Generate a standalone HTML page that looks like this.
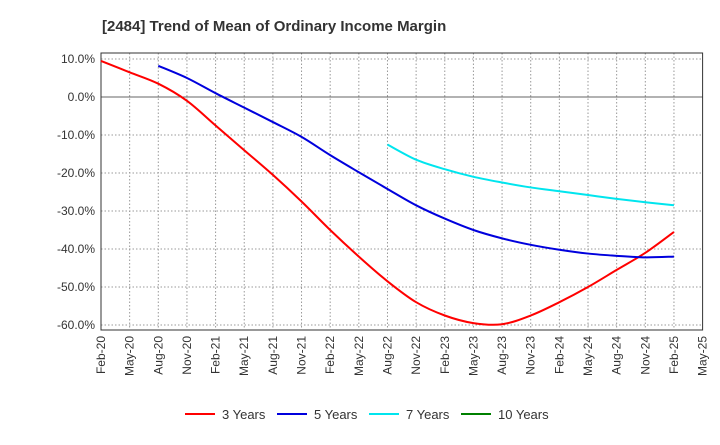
<!DOCTYPE html>
<html><head><meta charset="utf-8"><style>
body{margin:0;background:#fff;font-family:"Liberation Sans",sans-serif}
</style></head><body>
<svg width="720" height="440" xmlns="http://www.w3.org/2000/svg" font-family="Liberation Sans, sans-serif">
<text x="102" y="31" font-size="15" font-weight="bold" fill="#333">[2484]  Trend of Mean of Ordinary Income Margin</text>
<g id="grid"></g><g id="axes"></g><g id="series"></g><g id="legend"></g>
</svg>
<script>
const xLabels=["Feb-20","May-20","Aug-20","Nov-20","Feb-21","May-21","Aug-21","Nov-21","Feb-22","May-22","Aug-22","Nov-22","Feb-23","May-23","Aug-23","Nov-23","Feb-24","May-24","Aug-24","Nov-24","Feb-25","May-25"];
const yTicks=[10,0,-10,-20,-30,-40,-50,-60];
const s3=[9.5,6.5,3.5,-1,-7.5,-14,-20.5,-27.5,-35,-42,-48.5,-54,-57.5,-59.5,-59.8,-57.5,-54,-50,-45.5,-41,-35.5];
const s5=[null,null,8.2,5,1,-2.8,-6.6,-10.5,-15.3,-19.8,-24.2,-28.5,-32,-35,-37.2,-38.9,-40.2,-41.2,-41.8,-42.2,-42];
const s7=[null,null,null,null,null,null,null,null,null,null,-12.5,-16.5,-19,-21,-22.5,-23.8,-24.8,-25.8,-26.8,-27.7,-28.5];
const s10=[];
const L=101,R=702.6,T=53,B=330;
const xs=i=>L+i*(R-L)/21;
const ys=v=>97-v*3.8;
const NS="http://www.w3.org/2000/svg";
function mk(p,t,a){const e=document.createElementNS(NS,t);for(const k in a)e.setAttribute(k,a[k]);p.appendChild(e);return e;}
const g=document.getElementById('grid'),ax=document.getElementById('axes'),se=document.getElementById('series'),lg=document.getElementById('legend');
xLabels.forEach((l,i)=>{const x=xs(i);
 if(i>0&&i<21){const ln=mk(g,'line',{x1:x,x2:x,y1:T,y2:B,stroke:'#999','stroke-dasharray':'1.5,2','stroke-width':1});
 
 }
 const t=mk(ax,'text',{transform:`translate(${x+4},${B+6}) rotate(-90)`,'text-anchor':'end','font-size':12,fill:'#333'});t.textContent=l;
 
 });
yTicks.forEach(v=>{const y=ys(v);
 const ln=mk(g,'line',{x1:L,x2:R,y1:y,y2:y,stroke:v===0?'#666':'#999','stroke-dasharray':v===0?'none':'1.5,2','stroke-width':1});
 
 
 const t=mk(ax,'text',{x:L-6,y:y+4,'text-anchor':'end','font-size':12,fill:'#333'});t.textContent=v.toFixed(1)+'%';
 
 });
const fr=mk(ax,'rect',{x:L,y:T,width:R-L,height:B-T,fill:'none',stroke:'#333','stroke-width':1});


function path(arr){const p=[];arr.forEach((v,i)=>{if(v!=null)p.push([xs(i),ys(v)])});if(p.length<2)return '';
 let d=`M${p[0][0]},${p[0][1]}`;for(let i=0;i<p.length-1;i++){const p0=p[i-1]||p[i],p1=p[i],p2=p[i+1],p3=p[i+2]||p2;
 d+=` C${p1[0]+(p2[0]-p0[0])/6},${p1[1]+(p2[1]-p0[1])/6} ${p2[0]-(p3[0]-p1[0])/6},${p2[1]-(p3[1]-p1[1])/6} ${p2[0]},${p2[1]}`;}return d;}
const series=[[s3,'#ff0000','3 Years'],[s5,'#0000dd','5 Years'],[s7,'#00e5ee','7 Years'],[s10,'#008000','10 Years']];
series.forEach(([a,c,n],k)=>{const d=path(a);if(d){const p=mk(se,'path',{d:d,fill:'none',stroke:c,'stroke-width':2});
 
 }
 const lx=[185,277,369,461][k];
 const ll=mk(lg,'line',{x1:lx,x2:lx+30,y1:414,y2:414,stroke:c,'stroke-width':2});
 
 
 const t=mk(lg,'text',{x:lx+37,y:419,'font-size':13,fill:'#333'});t.textContent=n;
 
 });
</script>
</body></html>
